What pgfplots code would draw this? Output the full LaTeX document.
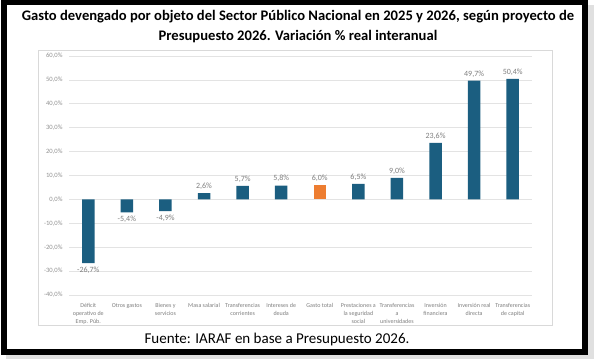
\documentclass[border=0pt]{standalone}
\usepackage{pgfplots}
\pgfplotsset{compat=1.18}
\usepackage{fontspec}
\setmainfont{Carlito}
\definecolor{barblue}{HTML}{1B5E80}
\definecolor{barorange}{HTML}{ED7D31}
\definecolor{lbl}{HTML}{7F7F7F}
\begin{document}
\begin{tikzpicture}[x=1pt,y=1pt]
\path[use as bounding box] (0,0) rectangle (597,363);
\fill[white] (0,0) rectangle (597,363);
% shadow
\fill[black!25] (8,6) rectangle (592,356);
\fill[black!12] (6,4) rectangle (594,358);
\fill[white] (3.5,11) rectangle (585,361);
\draw[line width=6pt,black] (3.5,11) rectangle (585,361);
% inner chart frame
\draw[black!15,line width=0.5pt] (38,38) rectangle (552,313);
% titles
\node[font=\bfseries\fontsize{14.6}{17}\selectfont] at (298,346) {Gasto devengado por objeto del Sector Público Nacional en 2025 y 2026, según proyecto de};
\node[font=\bfseries\fontsize{14.6}{17}\selectfont] at (298,326) {Presupuesto 2026. Variación \% real interanual};
\node[font=\fontsize{15}{17}\selectfont] at (277,23) {Fuente: IARAF en base a Presupuesto 2026.};
\begin{axis}[
  at={(69pt,68pt)}, anchor=south west,
  scale only axis, width=463pt, height=239pt,
  xmin=-0.5, xmax=11.5, ymin=-40, ymax=60,
  axis line style={draw=none},
  ymajorgrids, grid style={black!11, line width=0.6pt},
  ytick={-40,-30,...,60},
  yticklabels={{-40,0\%},{-30,0\%},{-20,0\%},{-10,0\%},{0,0\%},{10,0\%},{20,0\%},{30,0\%},{40,0\%},{50,0\%},{60,0\%}},
  yticklabel style={font=\fontsize{6.6}{8}\selectfont, text=lbl!85, xshift=-3pt},
  xtick={0,...,11},
  xticklabels={{Déficit\\operativo de\\Emp. Púb.},{Otros gastos},{Bienes y\\servicios},{Masa salarial},{Transferencias\\corrientes},{Intereses de\\deuda},{Gasto total},{Prestaciones a\\la seguridad\\social},{Transferencias\\a\\universidades},{Inversión\\financiera},{Inversión real\\directa},{Transferencias\\de capital}},
  xticklabel style={font=\fontsize{6}{8}\selectfont, text=lbl, align=center, anchor=north, yshift=-5pt},
  major tick length=0pt,
  ybar, bar width=12.5pt,
  /pgf/number format/assume math mode=true,
  nodes near coords={\pgfmathprintnumber[fixed,fixed zerofill,precision=1,use comma]{\pgfplotspointmeta}\%},
  nodes near coords style={font=\fontsize{8}{9}\selectfont, text=lbl},
]
\addplot[fill=barblue, draw=none, bar shift=0pt] coordinates {
 (0,-26.7) (1,-5.4) (2,-4.9) (3,2.6) (4,5.7) (5,5.8) (7,6.5) (8,9.0) (9,23.6) (10,49.7) (11,50.4)};
\addplot[fill=barorange, draw=none, bar shift=0pt] coordinates {(6,6.0)};
\end{axis}
\end{tikzpicture}
\end{document}
